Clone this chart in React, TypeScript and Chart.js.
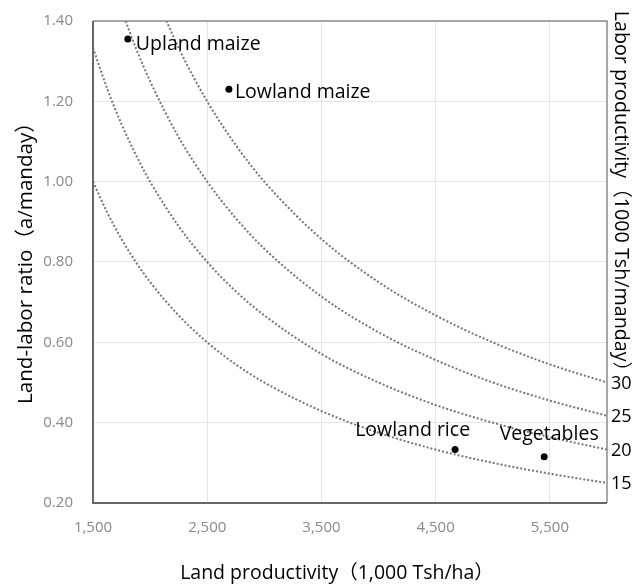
import React, { useEffect, useRef } from "react";
import { Chart, registerables } from "chart.js";

Chart.register(...registerables);

// Land productivity (1,000 Tsh/ha) sample positions along the iso-labor-productivity curves
const landProductivity = [1500, 1625, 1750, 1875, 2000, 2250, 2500, 2750, 3000, 3500, 4000, 4500, 5000, 5500, 6000];
// Land-labor ratio (a/manday)
const curve15 = [1.0, 0.923, 0.857, 0.8, 0.75, 0.667, 0.6, 0.545, 0.5, 0.429, 0.375, 0.333, 0.3, 0.273, 0.25];
const curve20 = [1.333, 1.231, 1.143, 1.067, 1.0, 0.889, 0.8, 0.727, 0.667, 0.571, 0.5, 0.444, 0.4, 0.364, 0.333];
const curve25 = [1.667, 1.538, 1.429, 1.333, 1.25, 1.111, 1.0, 0.909, 0.833, 0.714, 0.625, 0.556, 0.5, 0.455, 0.417];
const curve30 = [2.0, 1.846, 1.714, 1.6, 1.5, 1.333, 1.2, 1.091, 1.0, 0.857, 0.75, 0.667, 0.6, 0.545, 0.5];

// Crops
const cropNames = ["Upland maize", "Lowland maize", "Lowland rice", "Vegetables"];
const cropLandProd = [1805, 2690, 4670, 5450];
const cropRatio = [1.355, 1.23, 0.333, 0.315];

// Axis ticks
const xTicks = [1500, 2500, 3500, 4500, 5500];
const yTicks = [0.2, 0.4, 0.6, 0.8, 1.0, 1.2, 1.4];
const laborLevels = [15, 20, 25, 30];
const laborLevelRatioAtRight = [0.25, 0.333, 0.417, 0.5];

const xTitle = "Land productivity（1,000 Tsh/ha）";
const yTitle = "Land-labor ratio（a/manday）";
const y2Title = "Labor productivity（1000 Tsh/manday）";

const FONT = "'Open Sans', 'Noto Sans', 'Noto Sans CJK JP', sans-serif";

export default function App() {
  const ref = useRef<HTMLCanvasElement | null>(null);

  useEffect(() => {
    if (!ref.current) return;
    const curves = [curve15, curve20, curve25, curve30];
    const curveDatasets = curves.map((c, i) => ({
      type: "scatter" as const,
      label: "L" + laborLevels[i],
      data: landProductivity.map((x, j) => ({ x, y: c[j] })),
      showLine: true,
      borderColor: "#767676",
      borderWidth: 2,
      borderDash: [2, 2],
      pointRadius: 0,
      cubicInterpolationMode: "monotone" as const,
      fill: false,
    }));

    const labelOffsets: Record<string, { dx: number; dy: number; align: CanvasTextAlign }> = {
      "Upland maize": { dx: 8, dy: 5, align: "left" },
      "Lowland maize": { dx: 6, dy: 3, align: "left" },
      "Lowland rice": { dx: 15, dy: -19, align: "right" },
      Vegetables: { dx: 5, dy: -22, align: "center" },
    };

    const decor = {
      id: "decor",
      afterDatasetsDraw(chart: any) {
        const { ctx, chartArea: a } = chart;
        const ys = chart.scales.y;
        ctx.save();
        // plot frame
        ctx.strokeStyle = "#8c8c8c";
        ctx.lineWidth = 1.5;
        ctx.beginPath();
        ctx.moveTo(a.left, a.top);
        ctx.lineTo(a.right, a.top);
        ctx.lineTo(a.right, a.bottom);
        ctx.stroke();
        ctx.strokeStyle = "#676767";
        ctx.lineWidth = 2;
        ctx.beginPath();
        ctx.moveTo(a.left, a.top);
        ctx.lineTo(a.left, a.bottom);
        ctx.lineTo(a.right, a.bottom);
        ctx.stroke();

        // point labels
        const meta = chart.getDatasetMeta(4);
        ctx.fillStyle = "#000";
        ctx.font = `19.5px ${FONT}`;
        ctx.textBaseline = "middle";
        meta.data.forEach((pt: any, i: number) => {
          const name = cropNames[i];
          const o = labelOffsets[name];
          ctx.textAlign = o.align;
          ctx.fillText(name, pt.x + o.dx, pt.y + o.dy);
        });

        // right-side labor productivity labels at curve ends
        ctx.font = `18px ${FONT}`;
        ctx.textAlign = "left";
        laborLevels.forEach((lv, i) => {
          ctx.fillText(String(lv), a.right + 4, ys.getPixelForValue(laborLevelRatioAtRight[i]) + 1);
        });

        // axis titles
        ctx.textAlign = "center";
        ctx.textBaseline = "middle";
        ctx.font = `19.5px ${FONT}`;
        ctx.fillText(xTitle, 337, 573);

        ctx.font = `20.6px ${FONT}`;
        ctx.save();
        ctx.translate(26, 258);
        ctx.rotate(-Math.PI / 2);
        ctx.fillText(yTitle, 0, 0);
        ctx.restore();

        ctx.font = `19.7px ${FONT}`;
        ctx.save();
        ctx.translate(621, 196);
        ctx.rotate(Math.PI / 2);
        ctx.fillText(y2Title, 0, 0);
        ctx.restore();
        ctx.restore();
      },
    };

    const chart = new Chart(ref.current, {
      type: "scatter",
      data: {
        datasets: [
          ...curveDatasets,
          {
            type: "scatter",
            label: "Crops",
            data: cropLandProd.map((x, i) => ({ x, y: cropRatio[i] })),
            backgroundColor: "#000",
            borderColor: "#000",
            pointRadius: 3.5,
            pointBorderWidth: 0,
          },
        ] as any,
      },
      options: {
        animation: false,
        responsive: false,
        layout: { padding: { top: 21, left: 0, right: 27, bottom: 0 } },
        plugins: { legend: { display: false }, tooltip: { enabled: false } },
        scales: {
          x: {
            type: "linear",
            min: 1500,
            max: 6000,
            afterBuildTicks: (s: any) => {
              s.ticks = xTicks.map((v) => ({ value: v }));
            },
            afterFit: (s: any) => {
              s.height = 82;
            },
            ticks: {
              color: "#8a8a8a",
              font: { family: FONT, size: 15 },
              padding: 2,
              maxRotation: 0,
              callback: (v: any) => Number(v).toLocaleString("en-US"),
            },
            grid: {
              color: "#e6e6e6",
              lineWidth: 1,
              drawTicks: true,
              tickLength: 14,
              tickColor: "rgba(0,0,0,0)",
            },
            border: { display: false },
          },
          y: {
            type: "linear",
            position: "left",
            min: 0.2,
            max: 1.4,
            afterBuildTicks: (s: any) => {
              s.ticks = yTicks.map((v) => ({ value: v }));
            },
            afterFit: (s: any) => {
              s.width = 93;
            },
            ticks: {
              color: "#8a8a8a",
              font: { family: FONT, size: 15 },
              padding: 2,
              callback: (v: any) => Number(v).toFixed(2),
            },
            grid: {
              color: "#e6e6e6",
              lineWidth: 1,
              drawTicks: true,
              tickLength: 18,
              tickColor: "rgba(0,0,0,0)",
            },
            border: { display: false },
          },
        },
      },
      plugins: [decor],
    });
    return () => chart.destroy();
  }, []);

  return (
    <div style={{ position: "fixed", left: 0, top: 0, width: 634, height: 585, background: "#fff" }}>
      <canvas ref={ref} width={634} height={585} style={{ display: "block" }} />
    </div>
  );
}
